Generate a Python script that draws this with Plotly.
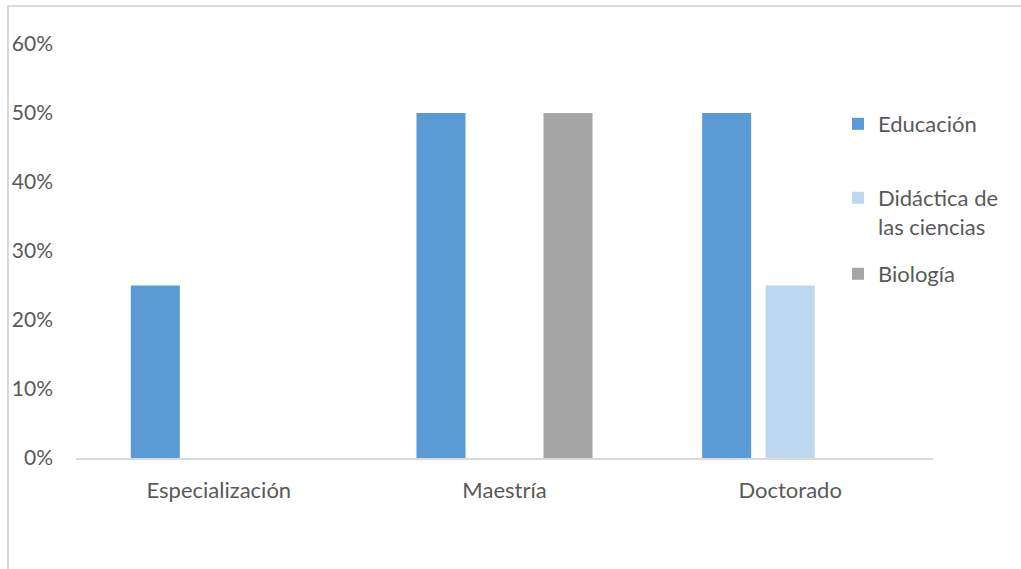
import plotly.graph_objects as go

# Nivel de formación y porcentaje por área
categorias = ["Especialización", "Maestría", "Doctorado"]
educacion = [0.25, 0.50, 0.50]
didactica = [0.0, 0.0, 0.25]
biologia = [0.0, 0.50, 0.0]

series = [
    ("Educación", educacion, "#5B9BD5"),
    ("Didáctica de<br>las ciencias", didactica, "#BDD7EE"),
    ("Biología", biologia, "#A5A5A5"),
]

W, H = 1021, 569
L, R, T, B = 76, 88, 44, 111
FONT = "Lato"
GRIS = "#595959"

pw = W - L - R
ph = H - T - B


def py(pix):
    """Convierte una coordenada vertical en píxeles a fracción del área de trazado."""
    return (H - B - pix) / ph


def px(pix):
    return (pix - L) / pw


# cada serie tiene su propia leyenda para fijar su posición vertical
legend_ids = ["legend", "legend2", "legend3"]
legend_tops = [103, 177, 253]

fig = go.Figure()
for (nombre, valores, color), lid in zip(series, legend_ids):
    fig.add_trace(go.Bar(
        x=categorias, y=valores, name=nombre,
        marker=dict(color=color, line=dict(width=0)),
        legend=lid,
    ))

# marco exterior del gráfico (bordes superior e izquierdo)
frame = dict(type="line", xref="paper", yref="paper",
             line=dict(color="#D9D9D9", width=2))
fig.add_shape(**frame, x0=px(8), x1=px(W), y0=py(6), y1=py(6))
fig.add_shape(**frame, x0=px(8), x1=px(8), y0=py(6), y1=py(H))

legend_style = dict(
    x=px(838), xanchor="left", yanchor="top",
    bgcolor="rgba(0,0,0,0)", valign="top", itemwidth=30,
    font=dict(family=FONT, size=22, color=GRIS),
)
layout_legends = {
    lid: dict(legend_style, y=py(top))
    for lid, top in zip(legend_ids, legend_tops)
}

fig.update_layout(
    width=W, height=H,
    margin=dict(l=L, r=R, t=T, b=B, autoexpand=False),
    paper_bgcolor="white", plot_bgcolor="white",
    barmode="group", bargap=0.333, bargroupgap=0.228,
    font=dict(family=FONT, size=22, color=GRIS),
    showlegend=True,
    xaxis=dict(
        showline=True, linecolor="#D9D9D9", linewidth=2,
        showgrid=False, ticks="", ticklabelstandoff=12,
        tickfont=dict(family=FONT, size=22, color=GRIS),
    ),
    yaxis=dict(
        range=[0, 0.6], dtick=0.1, tickformat=".0%",
        showgrid=False, zeroline=False, showline=False,
        ticks="", ticklabelstandoff=22,
        tickfont=dict(family=FONT, size=21, color=GRIS),
    ),
    **layout_legends,
)

fig.write_html("out.html")
